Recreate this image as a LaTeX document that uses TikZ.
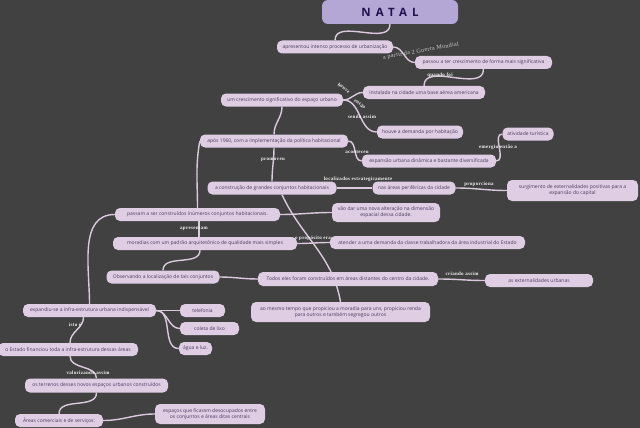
\documentclass[tikz,border=0pt]{standalone}
\usepackage{fontspec}
\newfontfamily\nodefont{Open Sans}
\newfontfamily\lblfont[LetterSpace=6]{Liberation Serif}
\newfontfamily\titlefont[LetterSpace=45]{Open Sans}
\definecolor{bgcol}{HTML}{414141}
\definecolor{nodefill}{HTML}{DFCDE4}
\definecolor{nodetext}{HTML}{4A3B5C}
\definecolor{titlefill}{HTML}{B4A7D6}
\definecolor{titletext}{HTML}{20124D}
\definecolor{linkcol}{HTML}{DCC8DF}
\definecolor{lbltext}{HTML}{F2F2F2}
\pgfdeclarelayer{bglayer}
\pgfdeclarelayer{linklayer}
\pgfsetlayers{bglayer,linklayer,main}
\begin{document}
\begin{tikzpicture}[x=1pt,y=-1pt,
  idea/.style={fill=nodefill, rounded corners=5pt, text=nodetext,
    font=\nodefont\fontsize{5}{6.2}\selectfont, inner sep=0pt,
    minimum height=13pt, align=center},
  titlebox/.style={fill=titlefill, rounded corners=6pt, text=titletext,
    font=\titlefont\bfseries\fontsize{11.5}{13}\selectfont, inner sep=0pt,
    minimum width=136pt, minimum height=24pt},
  link/.style={draw=linkcol, line width=1.4pt},
  lbl/.style={text=lbltext, font=\lblfont\bfseries\fontsize{5}{6}\selectfont, inner sep=0pt},
  biglbl/.style={text=lbltext!85!black, font=\lblfont\fontsize{6}{7}\selectfont, inner sep=0pt},
]
\begin{pgfonlayer}{bglayer}
\fill[bgcol] (0,0) rectangle (640,428);
\end{pgfonlayer}
\useasboundingbox (0,0) rectangle (640,428);

% nodes
\node[titlebox] (natal) at (390,12) {NATAL};
\node[idea, minimum width=116pt] (A) at (335,47) {apresentou intenso processo de urbanização};
\node[idea, minimum width=137pt] (B) at (483.5,62.5) {passou a ter crescimento de forma mais significativa};
\node[idea, minimum width=122pt] (C) at (424,92.5) {instalada na cidade uma base aérea americana};
\node[idea, minimum width=122pt] (D) at (282,100) {um crescimento significativo do espaço urbano};
\node[idea, minimum width=86pt] (E) at (420,132) {houve a demanda por habitação};
\node[idea, minimum width=148pt] (F) at (274,141) {após 1960, com a implementação da política habitacional};
\node[idea, minimum width=134pt] (G) at (429,161) {expansão urbana dinâmica e bastante diversificada};
\node[idea, minimum width=51pt] (H) at (528,134) {atividade turística};
\node[idea, minimum width=129pt] (I) at (272,188) {a construção de grandes conjuntos habitacionais};
\node[idea, minimum width=83pt] (J) at (414,188) {nas áreas periféricas da cidade};
\node[idea, minimum width=131pt, minimum height=21pt] (K) at (572.5,190.5) {surgimento de externalidades positivas para a\\expansão do capital};
\node[idea, minimum width=165pt] (L) at (197.5,214.5) {passam a ser construídos inúmeros conjuntos habitacionais.};
\node[idea, minimum width=108pt, minimum height=19pt] (M) at (386,212.5) {vão dar uma nova alteração na dimensão\\espacial dessa cidade.};
\node[idea, minimum width=184pt] (N) at (205,243.5) {moradias com um padrão arquitetônico de qualidade mais simples};
\node[idea, minimum width=195pt] (O) at (427.5,242.5) {atender a uma demanda da classe trabalhadora da área industrial do Estado};
\node[idea, minimum width=113pt] (P) at (163,277) {Observando a localização de tais conjuntos};
\node[idea, minimum width=180pt, minimum height=14pt] (Q) at (348,279) {Todos eles foram construídos em áreas distantes do centro da cidade.};
\node[idea, minimum width=108pt] (R) at (539,280.5) {as externalidades urbanas};
\node[idea, minimum width=179pt, minimum height=20pt] (S) at (340.5,312) {ao mesmo tempo que propiciou a moradia para uns, propiciou renda\\para outros e também segregou outros};
\node[idea, minimum width=133pt] (T) at (89.5,310.5) {expandiu-se a infra-estrutura urbana indispensável};
\node[idea, minimum width=45pt] (U) at (202.5,310.5) {telefonia};
\node[idea, minimum width=59pt] (V) at (209.5,328.5) {coleta de lixo};
\node[idea, minimum width=33pt] (W) at (195.5,348.5) {água e luz.};
\node[idea, minimum width=140pt] (X) at (68,349.5) {o Estado financiou toda a infra-estrutura dessas áreas};
\node[idea, minimum width=143pt, minimum height=14pt] (Y) at (96.5,385.5) {os terrenos desses novos espaços urbanos construídos};
\node[idea, minimum width=88pt] (Z) at (59,420.5) {Áreas comerciais e de serviços:};
\node[idea, minimum width=110pt, minimum height=20pt] (AA) at (210,414) {espaços que ficaram desocupados entre\\os conjuntos e áreas ditas centrais};

\begin{pgfonlayer}{linklayer}
% connectors
\draw[link] (natal.south) to[out=270,in=90] (A.north);
\draw[link] (A.east) to[out=0,in=180] (B.west);
\draw[link] (B.south) to[out=270,in=90] (C.north);
\draw[link] (C.west) to[out=180,in=0] (D.east);
\draw[link] (D.east) to[out=0,in=180] (E.west);
\draw[link] (D.south) to[out=270,in=90] (F.north);
\draw[link] (F.south) to[out=270,in=90] (I.north);
\draw[link] ([xshift=10pt]I.south) to[out=-65,in=100] (S.north);
\draw[link] (F.east) to[out=0,in=180] (G.west);
\draw[link] (G.east) to[out=0,in=180] (H.west);
\draw[link] (I.east) to[out=0,in=180] (J.west);
\draw[link] (J.east) to[out=0,in=180] (K.west);
\draw[link] (F.west) to[out=-100,in=90] (L.north);
\draw[link] ([xshift=1.5pt]L.south) -- ([xshift=1.5pt]L.south |- N.north);
\draw[link] ([xshift=-5pt]N.south) to[out=270,in=90] (P.north);
\draw[link] (L.west) to[out=180,in=90] (T.north);
\draw[link] (L.east) to[out=0,in=180] (M.west);
\draw[link] (N.east) to[out=0,in=180] (O.west);
\draw[link] (P.east) to[out=0,in=180] (Q.west);
\draw[link] (Q.east) to[out=0,in=180] (R.west);
\draw[link] (T.east) to[out=0,in=180] (U.west);
\draw[link] (T.east) to[out=0,in=180] (V.west);
\draw[link] (T.east) to[out=0,in=180] (W.west);
\draw[link] ([xshift=-6pt]T.south) to[out=270,in=90] ([xshift=2pt]X.north);
\draw[link] ([xshift=2pt]X.south) to[out=270,in=90] (Y.north);
\draw[link] (Y.south) to[out=270,in=90] (Z.north);
\draw[link] (Z.east) to[out=0,in=180] (AA.west);
% labels
\node[biglbl, rotate=10] (l1) at (421,51) {a partir da 2 Guerra Mundial};
\node[lbl] (l2) at (440,75) {quando foi};
\node[lbl, rotate=-38] (l3a) at (344,88) {houve};
\node[lbl, rotate=-38] (l3b) at (360,104) {então};
\node[lbl] (l4) at (362,117) {sendo assim};
\node[lbl] (l5) at (357,152) {aconteceu};
\node[lbl] (l6) at (498,147) {emergiu então a};
\node[lbl] (l7) at (273,160) {promoveu};
\node[lbl] (l8) at (358,179) {localizados estrategicamente};
\node[lbl] (l9) at (479,184) {proporciona};
\node[lbl] (l10) at (194,229) {apresentam};
\node[lbl] (l11) at (313,238) {o propósito era};
\node[lbl] (l12) at (462,274) {criando assim};
\node[lbl] (l13) at (75,325) {isto é};
\node[lbl] (l14) at (88,373) {valorizando assim};
\end{pgfonlayer}
\end{tikzpicture}
\end{document}
